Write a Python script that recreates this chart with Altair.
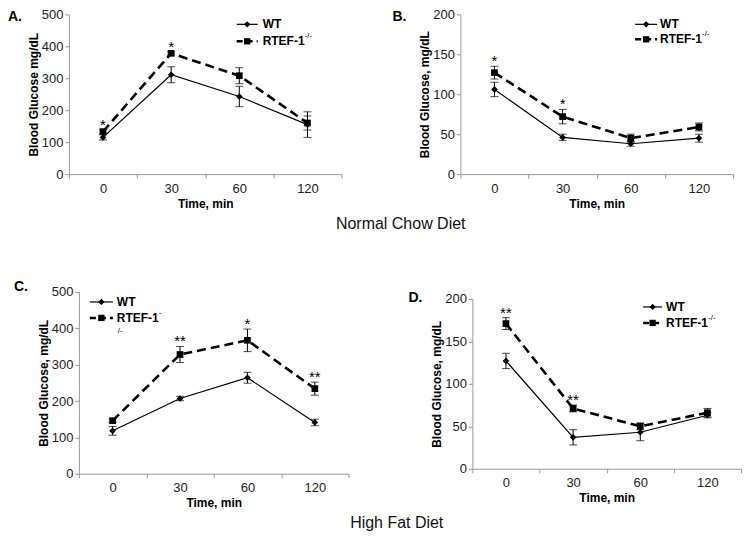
import altair as alt
import pandas as pd

FONT = "Liberation Sans"
TIMES = ["0", "30", "60", "120"]

# Panel A: normal chow, glucose tolerance
A_WT = [115, 311, 243, 155]
A_WT_ERR = [8, 25, 32, 40]
A_KO = [133, 378, 308, 160]
A_KO_ERR = [5, 5, 25, 22]
A_STARS = ["*", "*", "", ""]

# Panel B: normal chow, insulin tolerance
B_WT = [106, 46, 38, 45]
B_WT_ERR = [9, 4, 3, 5]
B_KO = [127, 72, 45, 59]
B_KO_ERR = [8, 9, 5, 5]
B_STARS = ["*", "*", "", ""]

# Panel C: high fat, glucose tolerance
C_WT = [118, 207, 264, 141]
C_WT_ERR = [12, 6, 15, 9]
C_KO = [146, 328, 367, 234]
C_KO_ERR = [5, 22, 31, 18]
C_STARS = ["", "**", "*", "**"]

# Panel D: high fat, insulin tolerance
D_WT = [127, 37, 43, 63]
D_WT_ERR = [9, 9, 10, 3]
D_KO = [171, 71, 50, 66]
D_KO_ERR = [7, 4, 4, 5]
D_STARS = ["**", "**", "", ""]


def one():
    return alt.Chart(pd.DataFrame([{"k": 0}]))


def panel(wt, wt_err, ko, ko_err, stars, ymax, ystep, ytitle, letter,
          w, h, letter_pos, leg, wrap=False, xs_=0, ys_=0):
    rows = []
    for g, vals, errs in [("WT", wt, wt_err), ("KO", ko, ko_err)]:
        for t, v, e in zip(TIMES, vals, errs):
            rows.append({"time": t, "group": g, "value": v,
                         "lo": v - e, "hi": v + e})
    df = pd.DataFrame(rows)
    sdf = pd.DataFrame({"time": TIMES, "hi": [v + e for v, e in zip(ko, ko_err)],
                        "star": stars})
    sdf = sdf[sdf["star"] != ""]

    xs = alt.Scale(type="band", paddingInner=0, paddingOuter=0,
                   range=[xs_, w + xs_])
    xax = alt.Axis(title="Time, min", labelAngle=0, tickBand="extent",
                   labelPadding=4, titlePadding=3)
    X = alt.X("time:N", sort=TIMES, scale=xs, axis=xax)
    ys = alt.Scale(domain=[0, ymax], nice=False, zero=True,
                   range=[h + ys_, ys_])
    yax_kw = dict(title=ytitle, values=list(range(0, ymax + 1, ystep)),
                  labelPadding=2, titlePadding=1)
    if xs_:
        yax_kw["offset"] = -xs_
    yax = alt.Axis(**yax_kw)

    base = alt.Chart(df)
    wt_line = base.transform_filter("datum.group == 'WT'").mark_line(
        color="black", strokeWidth=1.2).encode(
        x=X, y=alt.Y("value:Q", scale=ys, axis=yax))
    ko_line = base.transform_filter("datum.group == 'KO'").mark_line(
        color="black", strokeWidth=2.6, strokeDash=[9, 5]).encode(
        x=X, y=alt.Y("value:Q", scale=ys, axis=yax))
    err = base.mark_rule(color="black", strokeWidth=1).encode(
        x=X, y=alt.Y("lo:Q", scale=ys, axis=yax), y2="hi:Q")
    cap_lo = base.mark_tick(color="black", thickness=1, size=8).encode(
        x=X, y=alt.Y("lo:Q", scale=ys, axis=yax))
    cap_hi = base.mark_tick(color="black", thickness=1, size=8).encode(
        x=X, y=alt.Y("hi:Q", scale=ys, axis=yax))
    wt_pts = base.transform_filter("datum.group == 'WT'").mark_point(
        shape="diamond", filled=True, color="black", size=45, opacity=1).encode(
        x=X, y=alt.Y("value:Q", scale=ys, axis=yax))
    ko_pts = base.transform_filter("datum.group == 'KO'").mark_point(
        shape="square", filled=True, color="black", size=45, opacity=1).encode(
        x=X, y=alt.Y("value:Q", scale=ys, axis=yax))
    star = alt.Chart(sdf).mark_text(
        font=FONT, fontSize=15, color="black", baseline="alphabetic", dy=0).encode(
        x=X, y=alt.Y("hi:Q", scale=ys, axis=yax), text="star:N")

    lx0, lx1, tx, y1, y2 = leg
    lx0 += xs_
    lx1 += xs_
    tx += xs_
    y1 += ys_
    y2 += ys_
    mx = (lx0 + lx1) / 2
    layers = [wt_line, ko_line, err, cap_lo, cap_hi, wt_pts, ko_pts, star]
    layers += [
        one().mark_rule(color="black", strokeWidth=1.2).encode(
            x=alt.value(lx0), x2=alt.value(lx1), y=alt.value(y1)),
        one().mark_point(shape="diamond", filled=True, color="black", size=40,
                         opacity=1).encode(x=alt.value(mx), y=alt.value(y1)),
        one().mark_text(text="WT", font=FONT, fontSize=12, fontWeight="bold",
                        align="left", baseline="middle").encode(
            x=alt.value(tx), y=alt.value(y1)),
        one().mark_rule(color="black", strokeWidth=2.6, strokeDash=[6, 4]).encode(
            x=alt.value(lx0), x2=alt.value(lx1), y=alt.value(y2)),
        one().mark_point(shape="square", filled=True, color="black", size=40,
                         opacity=1).encode(x=alt.value(mx), y=alt.value(y2)),
        one().mark_text(text="RTEF-1", font=FONT, fontSize=12, fontWeight="bold",
                        align="left", baseline="middle").encode(
            x=alt.value(tx), y=alt.value(y2)),
    ]
    if wrap:
        layers += [
            one().mark_text(text="-", font=FONT, fontSize=8, align="left",
                            baseline="middle").encode(
                x=alt.value(tx + 42), y=alt.value(y2 - 5)),
            one().mark_text(text="/-", font=FONT, fontSize=8, align="left",
                            baseline="middle").encode(
                x=alt.value(tx + 1), y=alt.value(y2 + 13)),
        ]
    else:
        layers += [
            one().mark_text(text="-/-", font=FONT, fontSize=8, align="left",
                            baseline="middle").encode(
                x=alt.value(tx + 42), y=alt.value(y2 - 5)),
        ]
    layers.append(
        one().mark_text(text=letter, font=FONT, fontSize=14, fontWeight="bold",
                        align="left", baseline="top").encode(
            x=alt.value(letter_pos[0] + xs_), y=alt.value(letter_pos[1] + ys_)))
    return alt.layer(*layers).properties(width=w + xs_, height=h + ys_)


pA = panel(A_WT, A_WT_ERR, A_KO, A_KO_ERR, A_STARS, 500, 100,
           "Blood Glucose mg/dL", "A.", 273, 160, (-61, -4),
           (168, 189, 194, 10, 27))
pB = panel(B_WT, B_WT_ERR, B_KO, B_KO_ERR, B_STARS, 200, 50,
           "Blood Glucose, mg/dL", "B.", 273, 160, (-68, -4),
           (175, 197, 200, 10, 25))
pC = panel(C_WT, C_WT_ERR, C_KO, C_KO_ERR, C_STARS, 500, 100,
           "Blood Glucose, mg/dL", "C.", 270, 182, (-65, -12),
           (11, 34, 38, 10, 26), wrap=True, xs_=10)
pD = panel(D_WT, D_WT_ERR, D_KO, D_KO_ERR, D_STARS, 200, 50,
           "Blood Glucose, mg/dL", "D.", 269, 170, (-64, -8),
           (171, 190, 194, 8, 24), ys_=7)

row1 = alt.hconcat(pA, pB, spacing=50).properties(
    title=alt.TitleParams("Normal Chow Diet", orient="bottom", anchor="middle",
                          fontSize=16, fontWeight="normal", font=FONT,
                          color="#111", offset=7, dx=30))
row2 = alt.hconcat(pC, pD, spacing=59).properties(
    title=alt.TitleParams("High Fat Diet", orient="bottom", anchor="middle",
                          fontSize=16, fontWeight="normal", font=FONT,
                          color="#111", offset=6, dx=19))

chart = alt.vconcat(row1, row2, spacing=48).properties(
    padding={"left": 0, "top": 0, "right": 0, "bottom": 0}
).configure(font=FONT).configure_view(stroke=None).configure_axis(
    grid=False, labelFont=FONT, labelFontSize=13, labelColor="#222",
    titleFont=FONT, titleFontSize=12, titleFontWeight="bold", titleColor="black",
    domainColor="#999", tickColor="#999", tickSize=4
)

chart.save("out.html", embed_options={"renderer": "svg", "actions": False})
